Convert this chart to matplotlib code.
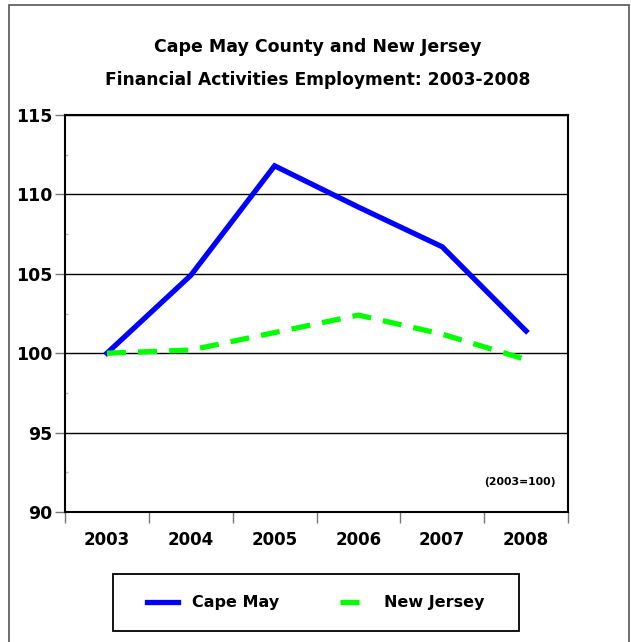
import matplotlib
matplotlib.use("Agg")
import matplotlib.pyplot as plt
from matplotlib.patches import Rectangle
from matplotlib.ticker import MultipleLocator, FixedLocator

years = ["2003", "2004", "2005", "2006", "2007", "2008"]
cape_may = [100.0, 104.9, 111.8, 109.2, 106.7, 101.4]
new_jersey = [100.0, 100.2, 101.3, 102.4, 101.2, 99.6]
series_names = ["Cape May", "New Jersey"]
title_lines = ["Cape May County and New Jersey", "Financial Activities Employment: 2003-2008"]
note = "(2003=100)"

plt.rcParams['font.family'] = ['DejaVu Sans']
plt.rcParams['font.weight'] = 'bold'

fig = plt.figure(figsize=(6.31, 6.42), dpi=100)
W, H = 631, 642

# outer frame
fig.patches.append(Rectangle((9 / W, -0.05), (629 - 9) / W, (H - 5) / H + 0.05,
                             transform=fig.transFigure, fill=False,
                             edgecolor='#555555', linewidth=1.2))
# legend frame
fig.patches.append(Rectangle((113 / W, 1 - 631 / H), (519 - 113) / W, (631 - 574) / H,
                             transform=fig.transFigure, fill=False,
                             edgecolor='black', linewidth=1.3))

ax = fig.add_axes([65 / W, (H - 512) / H, (568 - 65) / W, (512 - 115) / H])
x = list(range(len(years)))
ax.plot(x, cape_may, color='#0000FF', linewidth=3.8, solid_joinstyle='miter',
        label=series_names[0], zorder=3)
ax.plot(x, new_jersey, color='#00FF00', linewidth=3.8, linestyle=(0, (3.6, 2.3)),
        label=series_names[1], zorder=3)

ax.set_ylim(90, 115)
ax.set_xlim(-0.5, len(years) - 0.5)
ax.yaxis.set_major_locator(MultipleLocator(5))
ax.yaxis.set_minor_locator(MultipleLocator(2.5))
ax.grid(axis='y', which='major', color='black', linewidth=1.0)
ax.set_axisbelow(True)

ax.xaxis.set_major_locator(FixedLocator([i - 0.5 for i in range(len(years) + 1)]))
ax.xaxis.set_minor_locator(FixedLocator(x))
ax.set_xticklabels([])
ax.set_xticklabels(years, minor=True)
ax.tick_params(axis='x', which='major', direction='out', length=8, color='#777777', width=1)
ax.tick_params(axis='x', which='minor', length=0, pad=14, labelsize=12)
ax.tick_params(axis='y', which='major', direction='out', length=7, color='#777777', width=1,
               labelsize=12.5, pad=2)
ax.tick_params(axis='y', which='minor', direction='in', length=2, color='#bbbbbb', width=1)
for lab in ax.get_xticklabels(minor=True) + ax.get_yticklabels():
    lab.set_fontweight('bold')

for sp in ax.spines.values():
    sp.set_color('black')
    sp.set_linewidth(1.5)

ax.text(0.975, 0.075, note, transform=ax.transAxes, ha='right', va='center',
        fontsize=7.8, fontweight='bold')

fig.text(318 / W, 1 - 47 / H, title_lines[0], ha='center', va='center',
         fontsize=12.5, fontweight='bold')
fig.text(318 / W, 1 - 80 / H, title_lines[1], ha='center', va='center',
         fontsize=12.3, fontweight='bold')

leg = fig.legend(loc='center', bbox_to_anchor=(316 / W, 1 - 603 / H), ncol=2,
                 frameon=False,
                 handlelength=1.9, columnspacing=3.8, borderpad=0.5, handletextpad=0.9,
                 borderaxespad=0, prop={'weight': 'bold', 'size': 11.5})

fig.savefig("out.png", dpi=100)
